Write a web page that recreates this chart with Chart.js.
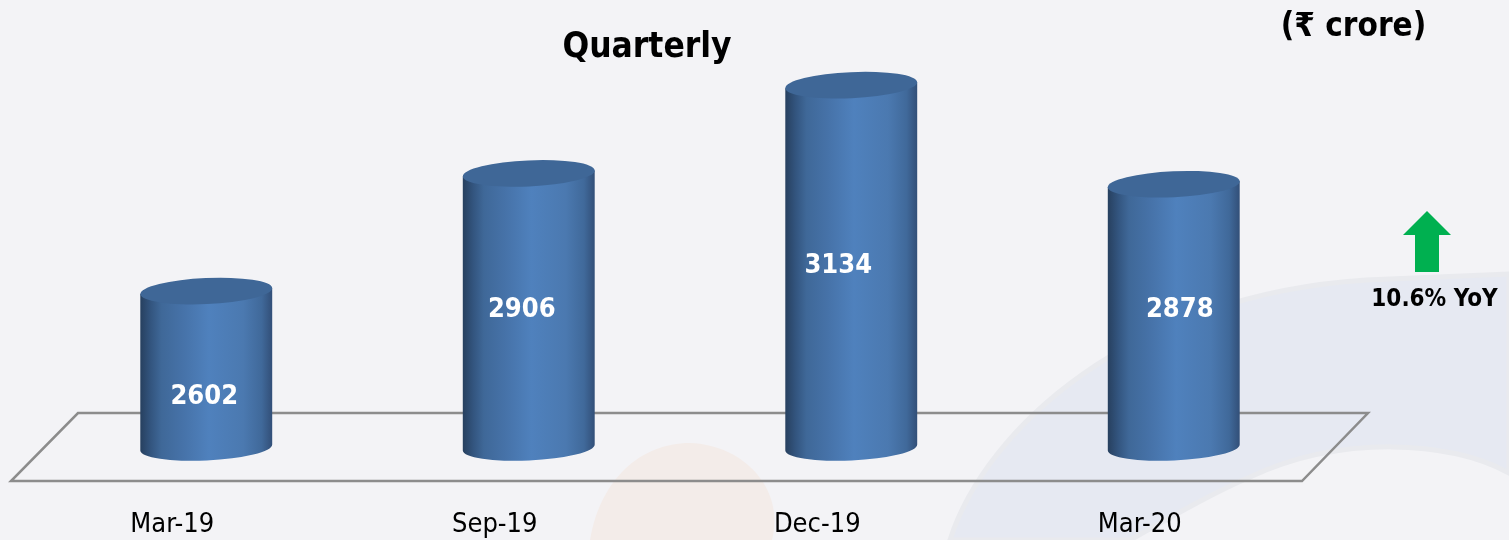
<!DOCTYPE html>
<html><head><meta charset="utf-8">
<style>html,body{margin:0;padding:0;background:#f3f3f6;overflow:hidden}#w{width:1509px;height:540px}</style>
<script src="https://cdn.jsdelivr.net/npm/chart.js@4"></script>
</head><body><div id="w"><canvas id="c" width="1509" height="540"></canvas></div>
<script>
const categories = ["Mar-19", "Sep-19", "Dec-19", "Mar-20"];
const values = [2602, 2906, 3134, 2878];
const titleText = "Quarterly";
const unitText = "(₹ crore)";
const yoyText = "10.6% YoY";

const FONT = '"DejaVu Sans Condensed","DejaVu Sans",sans-serif';
const valueOffsets = [[-2, 106], [-7, 137], [-13, 181], [6, 126]];

const stage = {
  id: 'stage',
  beforeDraw(chart) {
    const c = chart.ctx;
    c.save();
    c.fillStyle = '#f3f3f6'; c.fillRect(0, 0, 1509, 540);
    // pale watermark: orange blob
    c.fillStyle = '#f3ece9';
    c.beginPath(); c.moveTo(590, 540);
    c.bezierCurveTo(600, 480, 640, 443, 690, 443);
    c.bezierCurveTo(745, 445, 785, 490, 772, 540);
    c.closePath(); c.fill();
    // pale watermark: blue swoosh
    c.fillStyle = '#e6e9f2'; c.strokeStyle = '#e9eaee'; c.lineWidth = 5;
    c.beginPath(); c.moveTo(950, 540);
    c.bezierCurveTo(985, 430, 1130, 295, 1366, 280);
    c.lineTo(1509, 274); c.lineTo(1509, 473);
    c.bezierCurveTo(1450, 440, 1340, 435, 1250, 477);
    c.bezierCurveTo(1215, 492, 1180, 512, 1130, 540);
    c.closePath(); c.fill(); c.stroke();
    // floor
    c.strokeStyle = '#8c8c8c'; c.lineWidth = 2.5; c.lineJoin = 'miter';
    c.beginPath(); c.moveTo(78, 413); c.lineTo(1368, 413); c.lineTo(1302, 481); c.lineTo(11, 481); c.closePath(); c.stroke();
    c.restore();
  },
  beforeDatasetDraw(chart, args) {
    const c = chart.ctx;
    const tilt = 3;   // rise of the ellipse across half the width
    const ry = 13;
    const rot = Math.atan2(-tilt, 66);
    args.meta.data.forEach((bar) => {
      const hw = bar.width / 2, x = bar.x, top = bar.y, base = bar.base;
      const rx = hw / Math.cos(rot);
      const g = c.createLinearGradient(x - hw, 0, x + hw, 0);
      g.addColorStop(0, '#27405f'); g.addColorStop(0.08, '#33557f'); g.addColorStop(0.16, '#3f6898');
      g.addColorStop(0.32, '#4672a8'); g.addColorStop(0.52, '#4f81bd'); g.addColorStop(0.78, '#4b79b0');
      g.addColorStop(0.92, '#40699a'); g.addColorStop(1, '#324f78');
      c.save();
      c.fillStyle = g;
      c.beginPath();
      c.moveTo(x - hw, top + tilt);
      c.lineTo(x - hw, base + tilt);
      c.ellipse(x, base, rx, ry, rot, Math.PI, 0, true);
      c.lineTo(x + hw, top - tilt);
      c.closePath(); c.fill();
      c.fillStyle = '#3f6797';
      c.beginPath(); c.ellipse(x, top, rx, ry, rot, 0, Math.PI * 2); c.fill();
      c.restore();
    });
    return false;
  },
  afterDraw(chart) {
    const c = chart.ctx;
    const meta = chart.getDatasetMeta(0);
    c.save();
    c.textAlign = 'center'; c.textBaseline = 'middle';
    c.fillStyle = '#ffffff'; c.font = 'bold 27px ' + FONT;
    meta.data.forEach((bar, i) => {
      c.fillText(String(values[i]), bar.x + valueOffsets[i][0], bar.y + valueOffsets[i][1]);
    });
    c.fillStyle = '#000000';
    c.font = 'bold 35px ' + FONT; c.fillText(titleText, 647, 48);
    c.font = 'bold 33px ' + FONT; c.fillText(unitText, 1353.5, 27);
    c.font = 'bold 24px ' + FONT; c.fillText(yoyText, 1434.5, 300);
    c.fillStyle = '#00b050';
    c.beginPath(); c.moveTo(1427, 211); c.lineTo(1451, 235); c.lineTo(1439, 235); c.lineTo(1439, 272);
    c.lineTo(1415, 272); c.lineTo(1415, 235); c.lineTo(1403, 235); c.closePath(); c.fill();
    c.restore();
  }
};

new Chart(document.getElementById('c'), {
  type: 'bar',
  data: { labels: categories, datasets: [{ data: values, base: 2198, backgroundColor: '#4f81bd', barPercentage: 0.409, categoryPercentage: 1 }] },
  plugins: [stage],
  options: {
    responsive: false, animation: false,
    layout: { padding: { left: 45, right: 174, top: 20.5, bottom: 0 } },
    plugins: { legend: { display: false }, tooltip: { enabled: false }, title: { display: false } },
    scales: {
      x: {
        grid: { display: false }, border: { display: false },
        afterFit(s) { s.height = 92.5; },
        ticks: { color: '#000', font: { family: FONT, size: 27 }, padding: 53, labelOffset: -34, maxRotation: 0 }
      },
      y: { display: false, min: 2198, max: 3301 }
    }
  }
});
</script></body></html>
